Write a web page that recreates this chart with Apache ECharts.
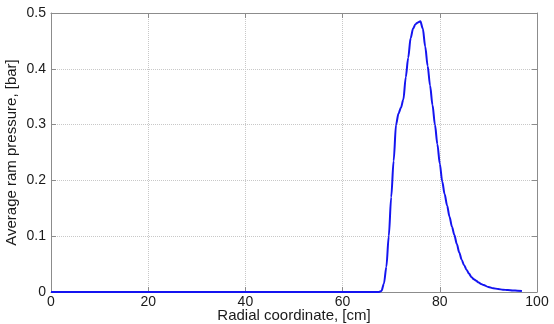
<!DOCTYPE html>
<html>
<head>
<meta charset="utf-8">
<script src="https://cdn.jsdelivr.net/npm/echarts@6/dist/echarts.min.js"></script>
<style>
html,body{margin:0;padding:0;background:#fff;}
#chart{width:554px;height:324px;}
</style>
</head>
<body>
<div id="chart"></div>
<script>
const xValues = [0, 67.5, 68.0, 68.5, 69.0, 69.5, 70.0, 70.5, 71.0, 71.5, 72.0, 72.5, 73.0, 73.5, 74.0, 74.5, 75.0, 75.5, 76.0, 76.5, 77.0, 77.5, 78.0, 78.5, 79.0, 79.5, 80.0, 80.5, 81.0, 81.5, 82.0, 82.5, 83.0, 83.5, 84.0, 84.5, 85.0, 85.5, 86.0, 86.5, 87.0, 87.5, 88.0, 88.5, 89.0, 90.0, 91.0, 92.0, 93.0, 94.0, 95.0, 96.0, 96.9];
const yValues = [0, 0, 0.002, 0.015, 0.045, 0.10, 0.17, 0.235, 0.30, 0.32, 0.33, 0.345, 0.385, 0.42, 0.455, 0.472, 0.480, 0.483, 0.485, 0.472, 0.44, 0.405, 0.37, 0.335, 0.30, 0.265, 0.23, 0.198, 0.175, 0.155, 0.135, 0.117, 0.102, 0.086, 0.071, 0.058, 0.048, 0.040, 0.033, 0.027, 0.023, 0.020, 0.017, 0.0145, 0.0125, 0.009, 0.0068, 0.0052, 0.0042, 0.0034, 0.0028, 0.0024, 0.002];
const xTicks = [0, 20, 40, 60, 80, 100];
const yTicks = [0, 0.1, 0.2, 0.3, 0.4, 0.5];
const xTitle = 'Radial coordinate, [cm]';
const yTitle = 'Average ram pressure, [bar]';

const seriesData = xValues.map((x, i) => [x, yValues[i]]);
const font = 'Liberation Sans, Arial, sans-serif';
const frameColor = '#8c8c8c';
const textColor = '#1a1a1a';

const chart = echarts.init(document.getElementById('chart'));
chart.setOption({
  animation: false,
  backgroundColor: '#ffffff',
  grid: { left: 51, right: 17, top: 13, bottom: 32, containLabel: false, outerBoundsMode: 'none' },
  xAxis: [{
    type: 'value', min: xTicks[0], max: xTicks[xTicks.length - 1], interval: 20,
    name: xTitle, nameLocation: 'middle', nameGap: 16, nameMoveOverlap: false,
    nameTextStyle: { fontFamily: font, fontSize: 15, color: textColor, verticalAlign: 'top' },
    axisLine: { show: true, lineStyle: { color: frameColor, width: 1 } },
    axisTick: { show: true, inside: true, length: 5, lineStyle: { color: frameColor } },
    axisLabel: { fontFamily: font, fontSize: 14, color: textColor, margin: 3 },
    splitLine: { show: true, lineStyle: { type: 'dotted', color: '#c8c8c8', width: 1 } }
  }, {
    type: 'value', position: 'top', min: xTicks[0], max: xTicks[xTicks.length - 1], interval: 20,
    axisLine: { show: true, onZero: false, lineStyle: { color: frameColor, width: 1 } },
    axisTick: { show: true, inside: true, length: 5, lineStyle: { color: frameColor } },
    axisLabel: { show: false }, splitLine: { show: false }
  }],
  yAxis: [{
    type: 'value', min: yTicks[0], max: yTicks[yTicks.length - 1], interval: 0.1,
    name: yTitle, nameLocation: 'middle', nameGap: 32, nameRotate: 90, nameMoveOverlap: false,
    nameTextStyle: { fontFamily: font, fontSize: 15, color: textColor },
    axisLine: { show: true, lineStyle: { color: frameColor, width: 1 } },
    axisTick: { show: true, inside: true, length: 5, lineStyle: { color: frameColor } },
    axisLabel: { fontFamily: font, fontSize: 14, color: textColor, margin: 5,
      formatter: v => (v === 0 ? '0' : v.toFixed(1)) },
    splitLine: { show: true, lineStyle: { type: 'dotted', color: '#c8c8c8', width: 1 } }
  }, {
    type: 'value', position: 'right', min: yTicks[0], max: yTicks[yTicks.length - 1], interval: 0.1,
    axisLine: { show: true, onZero: false, lineStyle: { color: frameColor, width: 1 } },
    axisTick: { show: true, inside: true, length: 5, lineStyle: { color: frameColor } },
    axisLabel: { show: false }, splitLine: { show: false }
  }],
  series: [{
    type: 'line', xAxisIndex: 0, yAxisIndex: 0, data: seriesData,
    smooth: 0.3, smoothMonotone: 'x', showSymbol: false, symbol: 'none',
    lineStyle: { color: '#1414f0', width: 2 }
  }]
});
</script>
</body>
</html>
